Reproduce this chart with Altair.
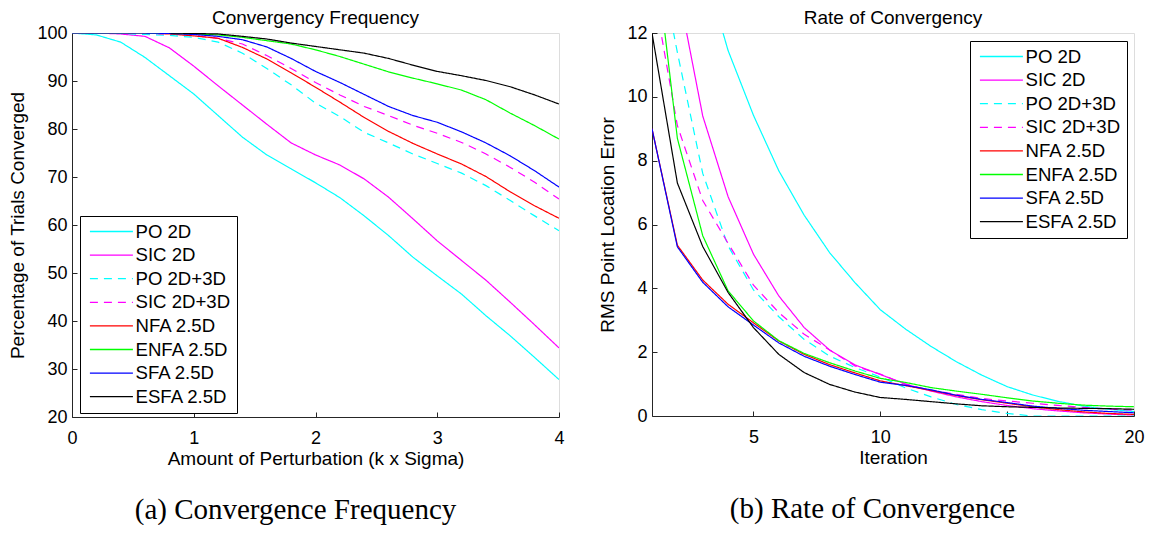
import altair as alt
import pandas as pd

FONT = "Liberation Sans"
SERIF = "Liberation Serif"

series = ["PO 2D", "SIC 2D", "PO 2D+3D", "SIC 2D+3D", "NFA 2.5D", "ENFA 2.5D", "SFA 2.5D", "ESFA 2.5D"]
colors = ["#00FFFF", "#FF00FF", "#00FFFF", "#FF00FF", "#FF0000", "#00FF00", "#0000FF", "#000000"]
dashes = [[1, 0], [1, 0], [8, 6], [8, 6], [1, 0], [1, 0], [1, 0], [1, 0]]

# ---- (a) Convergence frequency ----
perturb = [0.0, 0.2, 0.4, 0.6, 0.8, 1.0, 1.2, 1.4, 1.6, 1.8, 2.0,
           2.2, 2.4, 2.6, 2.8, 3.0, 3.2, 3.4, 3.6, 3.8, 4.0]
freq_po2d = [100, 99.6, 98.1, 94.9, 91.1, 87.3, 82.8, 78.3, 74.6, 71.7, 68.8,
             65.7, 61.9, 57.8, 53.3, 49.4, 45.6, 41.1, 36.9, 32.4, 27.8]
freq_sic2d = [100, 100, 99.8, 99.3, 96.9, 93.1, 89.0, 85.0, 81.0, 77.1, 74.6,
              72.5, 69.6, 65.8, 61.3, 56.7, 52.6, 48.5, 43.9, 39.2, 34.4]
freq_po23 = [100, 100, 99.9, 99.7, 99.5, 99.1, 98.1, 95.8, 92.6, 89.2, 85.4,
             82.6, 79.3, 77.1, 74.8, 72.8, 70.8, 68.2, 65.1, 61.9, 58.8]
freq_sic23 = [100, 100, 100, 99.9, 99.8, 99.5, 98.9, 97.7, 95.3, 92.6, 89.7,
              87.1, 84.7, 82.8, 80.8, 79.1, 77.2, 74.8, 72.0, 68.9, 65.4]
freq_nfa = [100, 100, 100, 100, 99.8, 99.4, 98.9, 97.0, 94.6, 91.7, 88.7,
            85.6, 82.4, 79.5, 77.0, 74.8, 72.7, 70.1, 66.9, 64.0, 61.4]
freq_enfa = [100, 100, 100, 100, 99.9, 99.8, 99.6, 99.1, 98.4, 97.7, 96.5,
             95.1, 93.5, 91.9, 90.6, 89.4, 88.1, 86.1, 83.3, 80.7, 77.9]
freq_sfa = [100, 100, 100, 100, 99.9, 99.7, 99.3, 98.6, 97.1, 94.7, 92.0,
            89.7, 87.2, 84.7, 82.8, 81.4, 79.4, 77.1, 74.4, 71.3, 67.9]
freq_esfa = [None, None, None, None, 100, 99.9, 99.8, 99.3, 98.75, 97.9, 97.2,
             96.5, 95.8, 94.7, 93.3, 92.0, 91.1, 90.1, 88.8, 87.1, 85.2]

# ---- (b) Rate of convergence ----
iters = [1, 2, 3, 4, 5, 6, 7, 8, 9, 10, 11, 12, 13, 14, 15, 16, 17, 18, 19, 20]
rms_po2d = [21.5, 17.5, 14.2, 11.45, 9.42, 7.68, 6.29, 5.12, 4.18, 3.33,
            2.72, 2.18, 1.70, 1.28, 0.92, 0.66, 0.46, 0.31, 0.21, 0.14]
rms_sic2d = [17.5, 13.5, 9.40, 6.87, 5.07, 3.76, 2.77, 2.07, 1.60, 1.30,
             1.00, 0.78, 0.60, 0.45, 0.33, 0.23, 0.16, 0.10, 0.06, 0.03]
rms_po23 = [15.5, 11.39, 7.60, 5.33, 3.95, 3.11, 2.40, 1.88, 1.52, 1.22,
            0.88, 0.60, 0.36, 0.20, 0.08, 0.0, 0.0, 0.0, 0.0, 0.0]
rms_sic23 = [13.6, 9.10, 6.75, 5.41, 4.10, 3.24, 2.56, 2.07, 1.57, 1.31,
             0.99, 0.80, 0.68, 0.55, 0.47, 0.40, 0.33, 0.27, 0.22, 0.18]
rms_nfa = [9.0, 5.35, 4.26, 3.50, 2.92, 2.35, 1.93, 1.61, 1.35, 1.10,
           0.95, 0.80, 0.64, 0.51, 0.40, 0.29, 0.20, 0.13, 0.08, 0.05]
rms_enfa = [15.4, 8.70, 5.65, 3.92, 2.98, 2.36, 1.96, 1.67, 1.41, 1.18,
            1.05, 0.89, 0.78, 0.68, 0.57, 0.47, 0.40, 0.34, 0.31, 0.29]
rms_sfa = [9.0, 5.30, 4.19, 3.42, 2.85, 2.29, 1.87, 1.56, 1.30, 1.06,
           0.96, 0.82, 0.65, 0.52, 0.42, 0.31, 0.24, 0.18, 0.14, 0.10]
rms_esfa = [12.0, 7.30, 5.31, 3.87, 2.77, 1.93, 1.36, 0.99, 0.75, 0.58,
            0.52, 0.45, 0.38, 0.32, 0.29, 0.27, 0.25, 0.24, 0.23, 0.21]


def long_table(xs, lists):
    rows = []
    for name, vals in zip(series, lists):
        for x, v in zip(xs, vals):
            if v is not None:
                rows.append({"x": x, "y": v, "series": name})
    return pd.DataFrame(rows)


df_a = long_table(perturb, [freq_po2d, freq_sic2d, freq_po23, freq_sic23,
                            freq_nfa, freq_enfa, freq_sfa, freq_esfa])
df_b = long_table(iters, [rms_po2d, rms_sic2d, rms_po23, rms_sic23,
                          rms_nfa, rms_enfa, rms_sfa, rms_esfa])

AXC = "#262626"


def panel(df, W, H, xdom, ydom, xvals, yvals, xtitle, ytitle, title, caption,
          capx, legx, legy):
    xs = alt.Scale(domain=xdom, nice=False, zero=False)
    ys = alt.Scale(domain=ydom, nice=False, zero=False)
    legend = alt.Legend(orient="none", legendX=legx, legendY=legy, title=None,
                        strokeColor="black", fillColor="white", padding=6,
                        symbolType="M-0.65,0H4.35", symbolSize=296,
                        symbolStrokeWidth=1.3,
                        labelFont=FONT, labelFontSize=18.6, labelColor="black",
                        labelOffset=30.5, rowPadding=3.6, labelLimit=0)
    x_main = alt.Axis(orient="bottom", values=xvals, format="d", ticks=False,
                      domainColor=AXC, labelFont=FONT, labelFontSize=18,
                      labelColor="black", labelPadding=12, labelFlush=False,
                      title=xtitle, titleFont=FONT, titleFontSize=19,
                      titleFontWeight="normal", titleColor="black",
                      titlePadding=2, grid=False)
    y_main = alt.Axis(orient="left", values=yvals, format="d", ticks=False,
                      domainColor=AXC, labelFont=FONT, labelFontSize=18,
                      labelColor="black", labelPadding=5, labelFlush=False,
                      title=ytitle, titleFont=FONT, titleFontSize=19,
                      titleFontWeight="normal", titleColor="black",
                      titlePadding=9, grid=False)
    lines = alt.Chart(df).mark_line(strokeWidth=1.2, clip=True).encode(
        x=alt.X("x:Q", scale=xs, axis=x_main),
        y=alt.Y("y:Q", scale=ys, axis=y_main),
        color=alt.Color("series:N", scale=alt.Scale(domain=series, range=colors),
                        legend=legend),
        strokeDash=alt.StrokeDash("series:N",
                                  scale=alt.Scale(domain=series, range=dashes),
                                  legend=legend),
    )
    x_tick = alt.Axis(orient="top", offset=-H, values=xvals, labels=False,
                      domain=False, ticks=True, tickSize=5, tickColor=AXC,
                      title=None, grid=False)
    y_tick = alt.Axis(orient="right", offset=-W, values=yvals, labels=False,
                      domain=False, ticks=True, tickSize=5, tickColor=AXC,
                      title=None, grid=False)
    ticks = alt.Chart(df).mark_point(opacity=0, clip=True).encode(
        x=alt.X("x:Q", scale=xs, axis=x_tick),
        y=alt.Y("y:Q", scale=ys, axis=y_tick),
    )
    x_cap = alt.Axis(orient="bottom", labels=False, domain=False, ticks=False,
                     grid=False, title=caption, titleFont=SERIF, titleFontSize=29,
                     titleFontWeight="normal", titleColor="black",
                     titleX=capx, titleY=92, titleAlign="center",
                     titleBaseline="middle")
    cap = alt.Chart(df).mark_point(opacity=0, clip=True).encode(
        x=alt.X("x:Q", scale=xs, axis=x_cap),
    )
    return alt.layer(lines, ticks, cap).resolve_axis(
        x="independent", y="independent"
    ).properties(
        width=W, height=H,
        title=alt.TitleParams(title, font=FONT, fontSize=19, fontWeight="normal",
                              color="black", frame="group", anchor="middle",
                              offset=-4),
    )


left = panel(df_a, 487, 384, [0, 4], [20, 100], [0, 1, 2, 3, 4],
             [20, 30, 40, 50, 60, 70, 80, 90, 100],
             "Amount of Perturbation (k x Sigma)", "Percentage of Trials Converged",
             "Convergency Frequency", "(a) Convergence Frequency", 223, 8, 183)
right = panel(df_b, 482, 383, [1, 20], [0, 12], [5, 10, 15, 20],
              [0, 2, 4, 6, 8, 10, 12],
              "Iteration", "RMS Point Location Error",
              "Rate of Convergency", "(b) Rate of Convergence", 220, 318, 8)

chart = alt.hconcat(left, right, spacing=33, padding=0).resolve_scale(
    color="independent", strokeDash="independent"
).configure_view(stroke=None).configure(background="white")

chart.save("out.html", embed_options={"renderer": "svg", "actions": False})
